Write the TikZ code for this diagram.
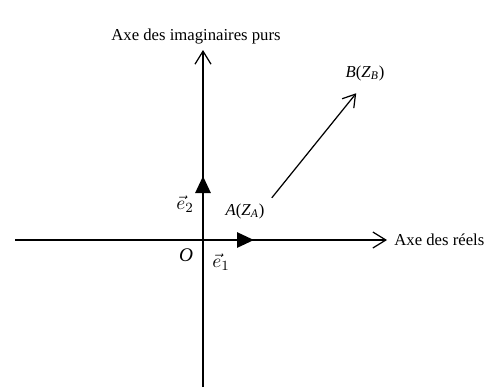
\documentclass[tikz,border=0pt]{standalone}
\usepackage{fontspec}
\setmainfont{Liberation Serif}
\usepackage{amsmath}
\usetikzlibrary{arrows.meta, positioning}

\begin{document}
\begin{tikzpicture}[
    x=0.02cm, y=-0.02cm,
    axis/.style={draw, line width=0.7pt, -{Straight Barb[length=2.6mm, width=3.2mm, line width=0.7pt]}},
    basevec/.style={draw, line width=1.6pt, -{Triangle[length=3.4mm, width=3mm]}},
    label/.style={inner sep=1pt, font=\fontsize{9.5}{11}\selectfont}
]
\useasboundingbox (0,0) rectangle (492,390);

% axes
\coordinate (O) at (203,240);
\coordinate (xstart) at (15,240);
\coordinate (xend) at (387,240);
\coordinate (ystart) at (203,387);
\coordinate (yend) at (203,50);
\draw[axis] (xstart) -- (xend);
\draw[axis] (ystart) -- (yend);
\node [label, right=3pt of xend] (reels) {Axe des réels};
\node [label, above=2pt of yend, xshift=-4pt] (imag) {Axe des imaginaires purs};

% base vectors
\coordinate (e1tip) at (254,240);
\coordinate (e2tip) at (203,176);
\draw[basevec] (O) -- (e1tip);
\draw[basevec] (O) -- (e2tip);
\node [label, font=\fontsize{11}{13}\selectfont] (orig) at (186,255) {\textit{O}};
\node [label, font=\fontsize{11}{13}\selectfont] (e1) at (221,262) {$\vec{e}_1$};
\node [label, font=\fontsize{11}{13}\selectfont] (e2) at (185,204) {$\vec{e}_2$};

% points A and B
\node [label] (A) at (245,211) {\textit{A}(\textit{Z}\textsubscript{\textit{A}})};
\node [label] (B) at (365,73) {\textit{B}(\textit{Z}\textsubscript{\textit{B}})};
\draw[line width=0.7pt, -{Straight Barb[length=2.4mm, width=3mm, line width=0.7pt]}] ([xshift=3pt, yshift=2pt]A.north east) -- ([xshift=-5pt, yshift=-6pt]B.south);

\end{tikzpicture}
\end{document}
